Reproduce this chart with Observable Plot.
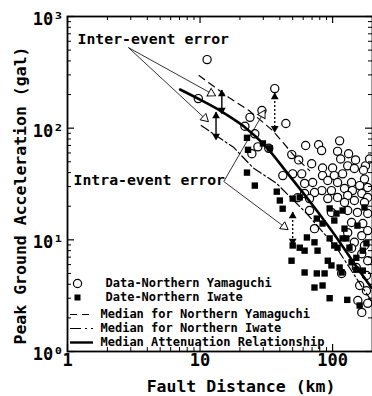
<!DOCTYPE html>
<html><head><meta charset="utf-8">
<script src="https://cdn.jsdelivr.net/npm/d3@7"></script>
<script src="https://cdn.jsdelivr.net/npm/@observablehq/plot@0.6"></script>
<style>html,body{margin:0;padding:0;background:#fff;}</style>
</head><body><div id="chart"></div>
<script>
// ---- data ----
const yamaguchiPoints = [
  [11.3,411],[9.7,184],[36.6,226],[29.3,144],[23.8,125],[21.8,104],[25.9,89],[44.4,110],[27.3,68],[24.6,59],
  [33.0,66],[42.1,37.6],[49.2,58],[55.5,52],[62.6,70],[78.4,71],[82.6,63],[69.5,48],[113,77],[109,62],
  [132,59],[115,53],[149,52],[100,44],[84,44],[177,46],[190,53],[130,46],[146,43.5],[171,42],
  [84,37.6],[103,37.6],[119,39],[174,35],[58.5,39],[50,39],[70.7,32.6],[61.5,32],[92,34],[109,32.6],
  [139,32.6],[160,30.6],[184,29.4],[83,27.6],[73,26.5],[98,27.6],[123,28.8],[141,27.6],[61.5,26],[54.6,23.9],
  [67,23.4],[92,23.4],[109,24],[130,25],[166,26],[184,24],[123,21.6],[146,22.5],[174,21.6],[67,18.3],
  [98,17.6],[130,18.3],[154,17.6],[184,17.2],[139,14.3],[169,14],[130,11.6],[166,10.9],[184,12.1],[146,9.5],
  [174,8.9],[139,8.4],[166,7.5],[184,6.5],[151,5.65],[73,12.6],[117,5.0],[180,4.8],[160,3.9],[180,3.5],
  [155,2.86],[184,2.7],[166,2.24]
];
const iwatePoints = [
  [22.6,82],[23,64],[29.8,73],[33.6,66],[22.6,40],[25.9,30.6],[37.9,27],[40,22.5],[42,19],[50,23.4],
  [56.5,24],[76,15.5],[95,19.1],[84,14],[107,17.2],[174,19.5],[64,10.5],[50,8.9],[56.5,8.5],[61.5,8.0],
  [73,9.5],[77,8.0],[95,10.3],[109,8.5],[119,10.3],[92,6.5],[98,5.9],[49,6.5],[61.5,5.1],[76,5.0],
  [87,5.0],[73,3.74],[84,3.9],[95,3.0],[117,5.1],[139,6.3],[151,6.9],[169,5.3],[103,14.9],[119,18.3],
  [103,8.9],[127,10.3],[113,5.65],[151,5.4],[169,8.0],[129,2.9],[160,2.58],[134,8.5],[180,9.3],[154,13.4],
  [123,12.6]
];
// median curves
const attenuationDistance = [7.07, 10.0, 14.1, 21.1, 31.9, 45.9, 75.9, 107, 141, 196];
const attenuationPGA      = [222, 180, 144, 105, 67, 39.2, 18.3, 10.5, 6.5, 3.74];
const yamaguchiMedianDistance = [9.83, 16.5, 23.4, 35.4, 52.7, 67.1];
const yamaguchiMedianPGA      = [296, 188, 144, 95, 54.6, 41.7];
const iwateMedianDistance = [10.2, 18.0, 25.0, 37.9, 63.8, 107, 168, 196];
const iwateMedianPGA      = [105.5, 67, 44.4, 31.9, 17.2, 8.5, 3.74, 2.86];
// annotations
const interArrowDistance = [14.6, 13.2];
const interArrowTop = [217, 138];
const interArrowBottom = [135, 79];
const intraArrowDistance = [36.6, 50.0];
const intraArrowTop = [204, 17.6];
const intraArrowBottom = [93, 9.1];
const interLeaderFrom = [2.88, 527];
const interLeaderTo = [[13.0, 196], [11.5, 115]];
const intraLeaderFrom = [15.1, 33.3];
const intraLeaderTo = [[30.8, 144], [45.9, 12.4]];
// ticks
const xMajor = [1, 10, 100];
const xTickLabels = ["1", "10", "100"];
const xMinor = [2,3,4,5,6,7,8,9,20,30,40,50,60,70,80,90];
const yMajor = [1, 10, 100, 1000];
const yTickLabels = ["10\u2070", "10\u00b9", "10\u00b2", "10\u00b3"];
const yMinor = [2,3,4,5,6,7,8,9,20,30,40,50,60,70,80,90,200,300,400,500,600,700,800,900];
const legendLabels = ["Data-Northern Yamaguchi", "Date-Northern Iwate", "Median for Northern Yamaguchi", "Median for Northern Iwate", "Median Attenuation Relationship"];

// ---- layout ----
const W = 372, H = 396, mL = 67, mR = 0, mT = 16, mB = 45;
const pw = W - mL - mR, ph = H - mT - mB;
const FONT = "DejaVu Sans Mono";

const yama = yamaguchiPoints.map(([d, a]) => ({d, a}));
const iwate = iwatePoints.map(([d, a]) => ({d, a}));
const curve = (ds, as) => ds.map((d, i) => ({d, a: as[i]}));
const interArrows = interArrowDistance.map((d, i) => ({d, t: interArrowTop[i], b: interArrowBottom[i]}));
const intraArrows = intraArrowDistance.map((d, i) => ({d, t: intraArrowTop[i], b: intraArrowBottom[i]}));
const leaders = [
  ...interLeaderTo.map(([d, a]) => ({x1: interLeaderFrom[0], y1: interLeaderFrom[1], x2: d, y2: a})),
  ...intraLeaderTo.map(([d, a]) => ({x1: intraLeaderFrom[0], y1: intraLeaderFrom[1], x2: d, y2: a}))
];
const headAngles = [118.9, 132.8, 30, 126.9];

function openHead(tip, angle) {
  const back = 4.5, rad = angle * Math.PI / 180;
  return Plot.dot([tip], {x: t => t[0], y: t => t[1], symbol: "triangle", r: 3.2, rotate: angle,
    dx: -back * Math.sin(rad), dy: back * Math.cos(rad), fill: "white", stroke: "black", strokeWidth: 0.9});
}

const legendText = {textAnchor: "start", lineAnchor: "middle", fontSize: 12, letterSpacing: "0.8px", frameAnchor: "bottom-left"};

const marks = [
  // data points
  Plot.dot(yama, {x: "d", y: "a", r: 4.1, fill: "white", stroke: "black", strokeWidth: 1.2}),
  Plot.dot(iwate, {x: "d", y: "a", symbol: "square", r: 3.6, fill: "black"}),
  // median curves
  Plot.line(curve(yamaguchiMedianDistance, yamaguchiMedianPGA), {x: "d", y: "a", stroke: "black", strokeWidth: 1.2, strokeDasharray: "7,5"}),
  Plot.line(curve(iwateMedianDistance, iwateMedianPGA), {x: "d", y: "a", stroke: "black", strokeWidth: 1.2, strokeDasharray: "9,3,2,3"}),
  Plot.line(curve(attenuationDistance, attenuationPGA), {x: "d", y: "a", stroke: "black", strokeWidth: 2.6, curve: "monotone-x"}),
  // inter-event error arrows
  Plot.ruleX(interArrows, {x: "d", y1: "t", y2: "b", strokeWidth: 1.4}),
  Plot.dot(interArrows, {x: "d", y: "t", symbol: "triangle", r: 2.9, rotate: 0, dy: 3.5, fill: "black"}),
  Plot.dot(interArrows, {x: "d", y: "b", symbol: "triangle", r: 2.9, rotate: 180, dy: -3.5, fill: "black"}),
  // intra-event error arrows (dotted)
  Plot.ruleX(intraArrows, {x: "d", y1: "t", y2: "b", strokeWidth: 1.3, strokeDasharray: "2,2"}),
  Plot.dot(intraArrows, {x: "d", y: "t", symbol: "triangle", r: 2.9, rotate: 0, dy: 3.5, fill: "black"}),
  Plot.dot(intraArrows, {x: "d", y: "b", symbol: "triangle", r: 2.9, rotate: 180, dy: -3.5, fill: "black"}),
  // leader lines and open heads
  Plot.link(leaders, {x1: "x1", y1: "y1", x2: "x2", y2: "y2", stroke: "black", strokeWidth: 0.8}),
  ...leaders.map((l, i) => openHead([l.x2, l.y2], headAngles[i])),
  // annotation text
  Plot.text(["Inter-event error"], {frameAnchor: "top-left", dx: 10, dy: 22.5, textAnchor: "start", lineAnchor: "middle", fontSize: 14.8, fontWeight: "bold"}),
  Plot.text(["Intra-event error"], {frameAnchor: "top-left", dx: 6, dy: 164, textAnchor: "start", lineAnchor: "middle", fontSize: 14.8, fontWeight: "bold"}),
  // legend
  Plot.dot([0], {frameAnchor: "bottom-left", dx: 10, dy: -68, r: 4.1, fill: "white", stroke: "black", strokeWidth: 1.2}),
  Plot.dot([0], {frameAnchor: "bottom-left", dx: 10, dy: -54, symbol: "square", r: 3.4, fill: "black"}),
  Plot.ruleY([1], {y: d => d, dy: -37, insetLeft: 3, insetRight: pw - 26, strokeWidth: 1.2, strokeDasharray: "7,5"}),
  Plot.ruleY([1], {y: d => d, dy: -23, insetLeft: 3, insetRight: pw - 26, strokeWidth: 1.2, strokeDasharray: "11,4,2,4"}),
  Plot.ruleY([1], {y: d => d, dy: -9, insetLeft: 3, insetRight: pw - 26, strokeWidth: 2.4}),
  Plot.text([legendLabels[0]], {...legendText, dx: 38, dy: -68}),
  Plot.text([legendLabels[1]], {...legendText, dx: 38, dy: -54}),
  Plot.text([legendLabels[2]], {...legendText, dx: 33, dy: -37}),
  Plot.text([legendLabels[3]], {...legendText, dx: 33, dy: -23}),
  Plot.text([legendLabels[4]], {...legendText, dx: 33, dy: -9}),
  // ticks (inward)
  Plot.tickX(xMajor, {x: d => d, insetTop: ph - 7, strokeWidth: 1.2}),
  Plot.tickX(xMinor, {x: d => d, insetTop: ph - 4}),
  Plot.tickX(xMajor, {x: d => d, insetBottom: ph - 7, strokeWidth: 1.2}),
  Plot.tickX(xMinor, {x: d => d, insetBottom: ph - 4}),
  Plot.tickY(yMajor, {y: d => d, insetRight: pw - 7, strokeWidth: 1.2}),
  Plot.tickY(yMinor, {y: d => d, insetRight: pw - 4}),
  Plot.tickY(yMajor, {y: d => d, insetLeft: pw - 7, strokeWidth: 1.2}),
  Plot.tickY(yMinor, {y: d => d, insetLeft: pw - 4}),
  Plot.frame({strokeWidth: 1.8}),
  // tick labels
  Plot.text(xMajor, {x: d => d, text: (d, i) => xTickLabels[i], frameAnchor: "bottom", dy: 2, lineAnchor: "top", fontSize: 17}),
  Plot.text(yMajor, {y: d => d, text: (d, i) => yTickLabels[i], frameAnchor: "left", textAnchor: "end", dx: -4, dy: 3, lineAnchor: "middle", fontSize: 17}),
  // axis titles
  Plot.text(["Fault Distance (km)"], {frameAnchor: "bottom", dx: 21, dy: 35, lineAnchor: "middle", fontSize: 16.5}),
  Plot.text(["Peak Ground Acceleration (gal)"], {frameAnchor: "left", textAnchor: "middle", rotate: -90, dx: -47, dy: 11.5, lineAnchor: "middle", fontSize: 16.5, letterSpacing: "1.3px"})
];

const chart = Plot.plot({
  width: W, height: H,
  marginLeft: mL, marginRight: mR, marginTop: mT, marginBottom: mB,
  x: {type: "log", domain: [1, 200], axis: null},
  y: {type: "log", domain: [1, 1000], axis: null},
  style: {fontFamily: FONT, fontWeight: "bold", background: "white", color: "black", overflow: "visible"},
  marks
});
document.getElementById("chart").appendChild(chart);
</script>
</body></html>
